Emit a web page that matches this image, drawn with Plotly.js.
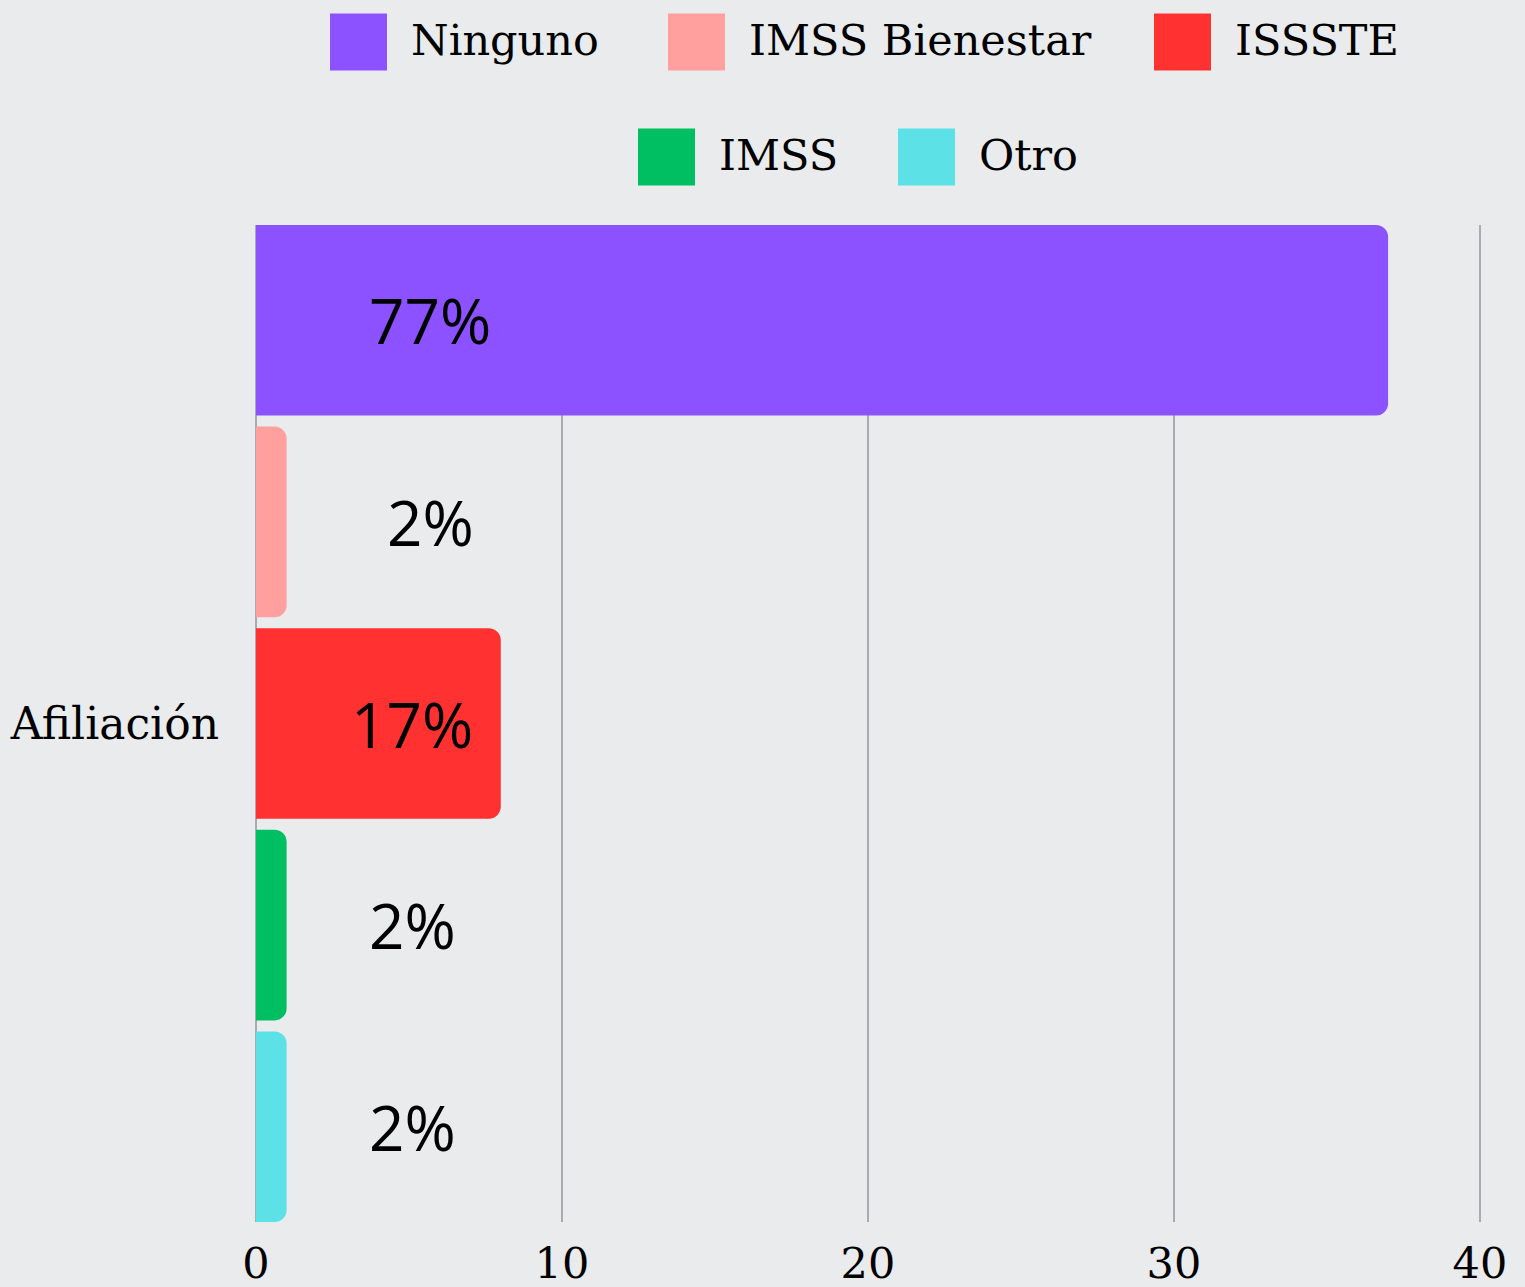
<!DOCTYPE html>
<html>
<head>
<meta charset="utf-8">
<script src="https://cdn.plot.ly/plotly-3.0.1.min.js"></script>
<style>
  html, body { margin: 0; padding: 0; background: #e9ebec; }
  #chart { width: 1525px; height: 1287px; }
</style>
</head>
<body>
<div id="chart"></div>
<script>
// data
var category = ['Afiliación'];
var seriesNames = ['Ninguno', 'IMSS Bienestar', 'ISSSTE', 'IMSS', 'Otro'];
var seriesValues = [37, 1, 8, 1, 1];
var seriesColors = ['#8c52ff', '#ffa09e', '#ff3131', '#00bf63', '#5ce1e6'];
var xTicks = [0, 10, 20, 30, 40];

var total = seriesValues.reduce(function (a, b) { return a + b; }, 0);

var serif = 'DejaVu Serif, Liberation Serif, serif';
var sans = 'Open Sans, Noto Sans, sans-serif';

// plot area in pixels
var W = 1525, H = 1287;
var L = 256, R = 39, T = 225, B = 65;
var plotW = W - L - R, plotH = H - T - B;
function px2x(px) { return (px - L) / plotW; }
function px2y(py) { return (H - B - py) / plotH; }

var groupGap = 0.055;
var n = seriesNames.length;
var edge = 0.5 - groupGap / 2 / n; // bars touch the top/bottom of the plot

var traces = seriesNames.map(function (name, i) {
  return {
    type: 'bar',
    orientation: 'h',
    name: name,
    y: category,
    x: [seriesValues[i]],
    marker: { color: seriesColors[i] },
    hoverinfo: 'name+x',
    showlegend: false
  };
});

var shapes = [];
var annotations = [];

// custom legend (large swatches)
var legendPos = [
  { sx: 330, row: 42 }, { sx: 668, row: 42 }, { sx: 1154, row: 42 },
  { sx: 638, row: 157 }, { sx: 898, row: 157 }
];
var sw = 57;
seriesNames.forEach(function (name, i) {
  var p = legendPos[i];
  shapes.push({
    type: 'rect', xref: 'paper', yref: 'paper',
    x0: px2x(p.sx), x1: px2x(p.sx + sw),
    y0: px2y(p.row + sw / 2), y1: px2y(p.row - sw / 2),
    fillcolor: seriesColors[i], line: { width: 0 }, layer: 'above'
  });
  annotations.push({
    xref: 'paper', yref: 'paper',
    x: px2x(p.sx + sw + 22), y: px2y(p.row - 2),
    xanchor: 'left', yanchor: 'middle',
    text: name, showarrow: false,
    font: { family: serif, size: 43, color: '#000' }
  });
});

// percentage labels
var labelX = [5.7, 5.7, 5.1, 5.1, 5.1];
seriesNames.forEach(function (name, i) {
  annotations.push({
    xref: 'x', yref: 'y',
    x: labelX[i], y: -0.5 + (i + 0.5) / n,
    text: Math.round(seriesValues[i] / total * 100) + '%',
    showarrow: false, xanchor: 'center', yanchor: 'middle',
    font: { family: sans, size: 62, color: '#000' }
  });
});

var layout = {
  width: W, height: H,
  margin: { l: L, r: R, t: T, b: B },
  paper_bgcolor: '#e9ebec',
  plot_bgcolor: 'rgba(0,0,0,0)',
  barmode: 'group',
  bargap: 0,
  bargroupgap: groupGap,
  barcornerradius: 12,
  showlegend: false,
  xaxis: {
    range: [0, 40.2],
    tickvals: xTicks,
    showgrid: true, gridcolor: '#a9acae', gridwidth: 1.5,
    zeroline: true, zerolinecolor: '#a9acae', zerolinewidth: 1.5,
    showline: false, ticks: '',
    ticklabelstandoff: 12,
    tickfont: { family: serif, size: 43, color: '#000' },
    fixedrange: true
  },
  yaxis: {
    range: [edge, -edge],
    showgrid: false, zeroline: false, showline: false, ticks: '',
    ticklabelstandoff: 36,
    tickfont: { family: serif, size: 44, color: '#000' },
    fixedrange: true
  },
  shapes: shapes,
  annotations: annotations
};

Plotly.newPlot('chart', traces, layout, { displayModeBar: false, responsive: false });
</script>
</body>
</html>
